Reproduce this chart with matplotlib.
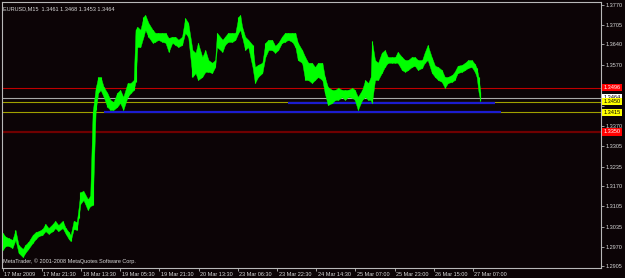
import matplotlib
matplotlib.use('Agg')
import matplotlib.pyplot as plt
import matplotlib.transforms as mtransforms

# EURUSD M15 bars (bar number, high, low)
bars = [0, 5, 10, 16, 21, 26, 33, 37, 42, 49, 54, 59, 65, 70, 75, 82, 86, 91, 98, 103,
        108, 111, 116, 121, 124, 127, 132, 139, 143, 147, 152, 156, 160, 165, 171, 176, 181, 187, 192, 197,
        204, 209, 214, 217, 220, 225, 230, 233, 238, 245, 249, 254, 261, 266, 271, 277, 282, 287, 293, 298,
        303, 310, 315, 319, 326, 331, 336, 342, 347, 350, 359, 363, 368, 375, 380, 385, 388, 391, 396, 401,
        408, 412, 417, 424, 429, 434, 440, 445, 450, 456, 461, 466, 473, 478, 482, 489, 494, 499, 505, 510,
        515, 522, 526, 531, 538, 543, 548, 554, 559, 564, 571, 575, 580, 587, 592, 597, 601, 603, 608, 613,
        619, 624, 629, 636, 641, 645, 652, 657, 662, 668, 673, 678, 685, 689, 694, 701, 706, 711, 717, 722,
        727, 734, 738, 743, 750, 755, 760, 766, 771, 774, 777, 780]
highs = [1.3016, 1.3003, 1.2999, 1.2993, 1.3026, 1.2976, 1.2963, 1.2976, 1.2986, 1.3009,
         1.3019, 1.3022, 1.3029, 1.3046, 1.3032, 1.3046, 1.3056, 1.3042, 1.3056, 1.3032,
         1.3019, 1.3009, 1.3056, 1.3052, 1.3098, 1.3151, 1.3155, 1.3128, 1.3138, 1.3416,
         1.3496, 1.3532, 1.3532, 1.3499, 1.3479, 1.3456, 1.3449, 1.3479, 1.3489, 1.3466,
         1.3512, 1.3512, 1.3522, 1.3688, 1.3698, 1.3688, 1.3731, 1.3737, 1.3711, 1.3688,
         1.3678, 1.3678, 1.3678, 1.3678, 1.3661, 1.3665, 1.3665, 1.3655, 1.3665, 1.3727,
         1.3711, 1.3621, 1.3612, 1.3645, 1.3598, 1.3621, 1.3588, 1.3579, 1.3588, 1.3678,
         1.3655, 1.3665, 1.3678, 1.3678, 1.3678, 1.3731, 1.3737, 1.3698, 1.3665, 1.3655,
         1.3638, 1.3565, 1.3572, 1.3579, 1.3645, 1.3655, 1.3655, 1.3635, 1.3645, 1.3665,
         1.3678, 1.3678, 1.3678, 1.3678, 1.3645, 1.3621, 1.3598, 1.3579, 1.3579, 1.3565,
         1.3579, 1.3579, 1.3532, 1.3499, 1.3489, 1.3489, 1.3496, 1.3489, 1.3489, 1.3489,
         1.3496, 1.3489, 1.3466, 1.3489, 1.3522, 1.3512, 1.3532, 1.3651, 1.3588, 1.3579,
         1.3612, 1.3621, 1.3598, 1.3598, 1.3598, 1.3615, 1.3598, 1.3588, 1.3588, 1.3598,
         1.3598, 1.3588, 1.3588, 1.3612, 1.3638, 1.3595, 1.3569, 1.3565, 1.3555, 1.3532,
         1.3532, 1.3539, 1.3549, 1.3569, 1.3572, 1.3579, 1.3588, 1.3588, 1.3575, 1.3562,
         1.3532, 1.3483]
lows = [1.2960, 1.2973, 1.2973, 1.2966, 1.2993, 1.2950, 1.2936, 1.2950, 1.2963, 1.2983,
        1.2996, 1.3006, 1.3009, 1.3022, 1.3013, 1.3022, 1.3032, 1.3022, 1.3032, 1.3013,
        1.2996, 1.2989, 1.3029, 1.3026, 1.3065, 1.3112, 1.3125, 1.3092, 1.3105, 1.3108,
        1.3423, 1.3479, 1.3489, 1.3466, 1.3433, 1.3423, 1.3423, 1.3433, 1.3446, 1.3423,
        1.3466, 1.3479, 1.3489, 1.3516, 1.3631, 1.3631, 1.3665, 1.3688, 1.3665, 1.3645,
        1.3648, 1.3655, 1.3648, 1.3645, 1.3615, 1.3645, 1.3638, 1.3631, 1.3638, 1.3678,
        1.3665, 1.3532, 1.3545, 1.3522, 1.3532, 1.3549, 1.3549, 1.3545, 1.3565, 1.3631,
        1.3615, 1.3638, 1.3648, 1.3648, 1.3655, 1.3678, 1.3688, 1.3665, 1.3621, 1.3631,
        1.3565, 1.3512, 1.3532, 1.3545, 1.3598, 1.3621, 1.3621, 1.3612, 1.3621, 1.3645,
        1.3648, 1.3655, 1.3648, 1.3631, 1.3588, 1.3579, 1.3522, 1.3522, 1.3512, 1.3522,
        1.3532, 1.3522, 1.3479, 1.3439, 1.3446, 1.3456, 1.3456, 1.3466, 1.3456, 1.3466,
        1.3463, 1.3456, 1.3423, 1.3456, 1.3466, 1.3456, 1.3456, 1.3446, 1.3522, 1.3522,
        1.3545, 1.3565, 1.3579, 1.3579, 1.3579, 1.3579, 1.3555, 1.3549, 1.3555, 1.3565,
        1.3569, 1.3555, 1.3562, 1.3579, 1.3588, 1.3545, 1.3532, 1.3522, 1.3516, 1.3496,
        1.3512, 1.3516, 1.3522, 1.3545, 1.3549, 1.3555, 1.3562, 1.3565, 1.3549, 1.3532,
        1.3483, 1.3453]

price_ticks = [1.3770, 1.3705, 1.3640, 1.3570, 1.3505, 1.3435, 1.3370,
               1.3305, 1.3235, 1.3170, 1.3105, 1.3035, 1.2970, 1.2905]
hidden_ticks = [1.3505, 1.3435]   # covered by the level boxes
time_ticks = [0, 64, 128, 192, 256, 320, 384, 448, 512, 576, 640, 704, 768]
time_labels = ['17 Mar 2009', '17 Mar 21:30', '18 Mar 13:30', '19 Mar 05:30', '19 Mar 21:30',
               '20 Mar 13:30', '23 Mar 06:30', '23 Mar 22:30', '24 Mar 14:30', '25 Mar 07:00',
               '25 Mar 23:00', '26 Mar 15:00', '27 Mar 07:00']

# horizontal levels: price, line colour, label box colour, label text colour
levels = [(1.3496, '#c00000', '#ff0000', 'white'),
          (1.3464, '#a8a8a8', '#ffffff', 'black'),
          (1.3450, '#a0a000', '#ffff00', 'black'),
          (1.3415, '#a0a000', '#ffff00', 'black'),
          (1.3350, '#700000', '#ff0000', 'white')]
# blue support lines: price, start bar, end bar
supports = [(1.3447, 466, 804), (1.3415, 166, 813)]

bg = '#0c0406'
fnt = 'Liberation Sans'
fs = 4.0

fig = plt.figure(figsize=(6.25, 2.78), dpi=100, facecolor=bg)
ax = fig.add_axes([2 / 625, 10 / 278, 599 / 625, 266 / 278], facecolor=bg)

for price, lc, bc, tc in levels:
    lw = 1.6 if lc == '#700000' else 0.8
    ax.axhline(price, color=lc, lw=lw, zorder=1)

for price, b0, b1 in supports:
    ax.hlines(price, b0, b1, color='#1c1cd0', lw=1.6, zorder=2)

ax.fill_between(bars, lows, highs, color='#00ff00', lw=0.3, zorder=3)
ax.vlines(bars, lows, highs, color='#00ff00', lw=0.8, zorder=3)

ax.set_xlim(-1, 977)
ax.set_ylim(1.2900, 1.3780)

for s in ax.spines.values():
    s.set_color('#b8b8b8')
    s.set_linewidth(0.8)

ax.yaxis.tick_right()
ax.set_yticks(price_ticks)
ax.set_yticklabels(['' if p in hidden_ticks else '%.4f' % p for p in price_ticks])
ax.tick_params(axis='y', direction='out', length=2, width=0.6, color='#b8b8b8',
               labelcolor='#d8d8d8', labelsize=fs, pad=1.5)
ax.set_xticks(time_ticks)
ax.set_xticklabels(time_labels, ha='left')
ax.tick_params(axis='x', direction='out', length=2, width=0.6, color='#b8b8b8',
               labelcolor='#d8d8d8', labelsize=fs, pad=1)
for lab in ax.get_xticklabels() + ax.get_yticklabels():
    lab.set_fontfamily(fnt)
for lab in ax.get_xticklabels():
    lab.set_transform(lab.get_transform() + mtransforms.ScaledTranslation(1.5 / 100, 0, fig.dpi_scale_trans))

# price boxes on the right scale, later ones drawn on top
trans = mtransforms.blended_transform_factory(ax.transAxes, ax.transData)
for i, (price, lc, bc, tc) in enumerate(levels):
    ax.text(1.004, price, '%.4f' % price, transform=trans, ha='left', va='center',
            fontsize=fs, family=fnt, color=tc, zorder=10 + i, clip_on=False,
            bbox=dict(boxstyle='square,pad=0.2', facecolor=bc, edgecolor='none'))

ax.text(0.002, 0.985, 'EURUSD,M15  1.3461 1.3468 1.3453 1.3464', transform=ax.transAxes,
        ha='left', va='top', fontsize=fs, family=fnt, color='#d8d8d8')
ax.text(0.002, 0.015, 'MetaTrader, \u00a9 2001-2008 MetaQuotes Software Corp.', transform=ax.transAxes,
        ha='left', va='bottom', fontsize=fs, family=fnt, color='#d8d8d8')

fig.savefig('out.png', dpi=100, facecolor=bg)
